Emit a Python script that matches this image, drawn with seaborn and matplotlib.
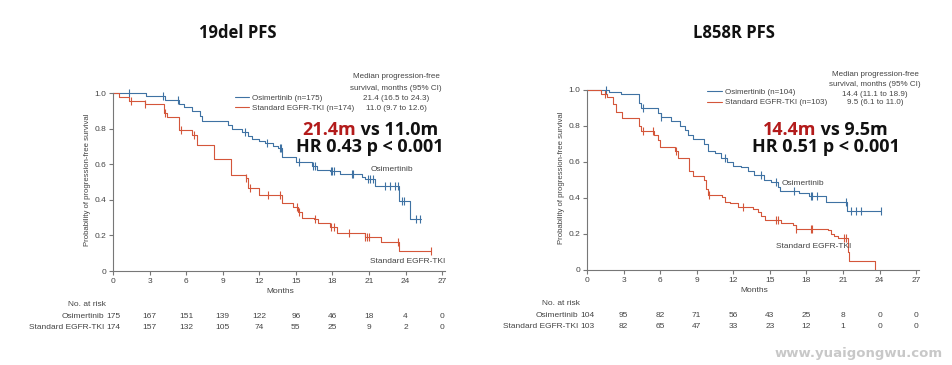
import numpy as np
import matplotlib
matplotlib.use("Agg")
import matplotlib.pyplot as plt
import seaborn as sns

# ---- 19del panel ----
del_osi_t = [0, 2.7, 4.3, 5.4, 5.8, 6.5, 7.1, 7.3, 9.4, 9.8, 10.6, 11.1, 11.4, 12.0, 12.5, 13.1,
             13.5, 13.9, 15.0, 16.3, 16.7, 17.8, 18.6, 20.4, 20.7, 21.5, 23.5, 24.4]
del_osi_s = [1.0, 0.985, 0.96, 0.94, 0.92, 0.90, 0.87, 0.84, 0.82, 0.80, 0.78, 0.76, 0.74, 0.73, 0.72, 0.70,
             0.69, 0.64, 0.61, 0.59, 0.57, 0.56, 0.545, 0.53, 0.515, 0.48, 0.395, 0.295]
del_osi_end = 25.3
del_osi_cens = [1.3, 4.1, 5.3, 10.8, 12.6, 13.7, 13.8, 15.3, 16.4, 16.6, 17.9, 18.0, 18.1, 19.6, 19.7,
                20.9, 21.1, 21.3, 22.3, 22.7, 23.1, 23.4, 23.7, 23.9, 24.9, 25.2]

del_std_t = [0, 0.5, 1.3, 2.6, 4.2, 4.4, 5.4, 6.5, 6.9, 8.3, 9.7, 10.9, 11.1, 12.0, 13.9, 14.8, 15.2,
             15.5, 16.5, 16.8, 17.8, 18.4, 20.7, 22.0, 23.5]
del_std_s = [1.0, 0.98, 0.955, 0.94, 0.885, 0.865, 0.79, 0.765, 0.71, 0.63, 0.54, 0.52, 0.465, 0.425, 0.38,
             0.36, 0.33, 0.30, 0.29, 0.27, 0.25, 0.215, 0.19, 0.165, 0.115]
del_std_end = 26.1
del_std_cens = [1.45, 2.6, 4.3, 5.55, 6.65, 10.95, 11.2, 12.7, 13.7, 15.1, 15.3, 16.55, 17.9, 18.1, 19.4,
                20.7, 20.85, 21.0, 23.4, 26.1]

del_risk_osi = [175, 167, 151, 139, 122, 96, 46, 18, 4, 0]
del_risk_std = [174, 157, 132, 105, 74, 55, 25, 9, 2, 0]

# ---- L858R panel ----
l858_osi_t = [0, 1.8, 2.8, 4.3, 4.45, 5.8, 6.1, 6.9, 7.6, 8.0, 8.3, 8.7, 9.6, 9.9, 10.5, 11.0, 11.5,
              12.0, 12.6, 13.2, 13.7, 14.5, 15.1, 15.65, 15.8, 17.4, 18.2, 19.6, 21.3]
l858_osi_s = [1.0, 0.99, 0.98, 0.93, 0.90, 0.87, 0.85, 0.83, 0.80, 0.78, 0.75, 0.73, 0.70, 0.66, 0.65, 0.62,
              0.60, 0.58, 0.57, 0.55, 0.53, 0.50, 0.49, 0.46, 0.44, 0.43, 0.41, 0.375, 0.33]
l858_osi_end = 24.1
l858_osi_cens = [1.55, 4.6, 6.1, 11.3, 14.3, 15.5, 17.0, 18.4, 18.5, 18.9, 21.25, 21.7, 22.1, 22.5, 24.1]

l858_std_t = [0, 1.15, 1.6, 2.1, 2.4, 2.9, 4.3, 4.45, 5.5, 5.8, 5.95, 7.2, 7.45, 8.4, 8.7, 9.6, 9.8, 9.9,
              11.1, 11.3, 11.7, 12.4, 13.6, 14.0, 14.3, 14.6, 15.9, 16.9, 17.15, 19.75, 20.0, 20.3, 20.6,
              21.4, 21.5, 23.6]
l858_std_s = [1.0, 0.98, 0.96, 0.92, 0.88, 0.845, 0.80, 0.77, 0.75, 0.72, 0.685, 0.66, 0.62, 0.55, 0.52,
              0.50, 0.45, 0.415, 0.405, 0.38, 0.37, 0.35, 0.34, 0.32, 0.30, 0.28, 0.26, 0.25, 0.23, 0.22,
              0.20, 0.19, 0.18, 0.10, 0.05, 0.0]
l858_std_end = 23.6
l858_std_cens = [1.5, 4.6, 5.4, 7.3, 10.0, 12.8, 15.5, 15.65, 17.15, 18.4, 18.5, 21.1, 21.25]

l858_risk_osi = [104, 95, 82, 71, 56, 43, 25, 8, 0, 0]
l858_risk_std = [103, 82, 65, 47, 33, 23, 12, 1, 0, 0]

months = list(range(0, 28, 3))

BLUE = "#3f72a3"
RED = "#d4563a"
GREY = "#444444"

sns.set_theme(style="ticks")
plt.rcParams['font.family'] = ['Liberation Sans', 'DejaVu Sans']

fig = plt.figure(figsize=(9.52, 3.65), dpi=100)
ax1 = fig.add_axes([0.1187, 0.2575, 0.3508, 0.4974])
ax2 = fig.add_axes([0.6166, 0.2603, 0.3508, 0.503])


def km_curve(ax, t, s, end, cens, color, label):
    x = list(t) + [end]
    y = list(s) + [s[-1]]
    sns.lineplot(x=x, y=y, drawstyle='steps-post', estimator=None, sort=False,
                 color=color, linewidth=0.8, label=label, ax=ax)
    idx = np.searchsorted(t, cens, side='right') - 1
    cy = np.array(s)[idx]
    sns.scatterplot(x=cens, y=cy, marker='|', s=26, color=color, linewidth=0.8, ax=ax)


def panel(ax, osi, std, n_osi, n_std, risk_osi, risk_std, leg_xy, osi_lab_xy, std_lab_xy):
    km_curve(ax, *osi, BLUE, f"Osimertinib (n={n_osi})")
    km_curve(ax, *std, RED, f"Standard EGFR-TKI (n={n_std})")
    ax.set_xlim(0, 27.4)
    ax.set_ylim(0, 1.02)
    ax.set_xticks(months)
    ax.set_yticks([0, 0.2, 0.4, 0.6, 0.8, 1.0])
    ax.set_yticklabels(['0', '0.2', '0.4', '0.6', '0.8', '1.0'])
    ax.spines['left'].set_bounds(0, 1)
    ax.spines['bottom'].set_bounds(0, 27.2)
    for sp in ['left', 'bottom']:
        ax.spines[sp].set_color('#777777')
        ax.spines[sp].set_linewidth(0.8)
    sns.despine(ax=ax)
    ax.tick_params(axis='both', labelsize=6, colors='#777777', labelcolor=GREY,
                   length=3, width=0.8, pad=2)
    ax.set_xlabel("Months", fontsize=6, color=GREY, labelpad=2)
    ax.set_ylabel("Probability of progression-free survival", fontsize=5.6, color=GREY, labelpad=2)
    ax.legend(loc='upper left', bbox_to_anchor=leg_xy, frameon=False, fontsize=5.8,
              handlelength=1.8, handletextpad=0.35, labelspacing=0.35, borderpad=0,
              borderaxespad=0, labelcolor=GREY)
    ax.text(*osi_lab_xy, "Osimertinib", fontsize=6, color=GREY, va='center')
    ax.text(*std_lab_xy, "Standard EGFR-TKI", fontsize=6, color=GREY, va='center')

    # number at risk table
    kw = dict(xycoords=('data', 'axes fraction'), textcoords='offset points',
              fontsize=6, color=GREY, va='center', annotation_clip=False)
    ax.annotate("No. at risk", xy=(0, 0), xytext=(-19, -24), ha='center', **kw)
    ax.annotate("Osimertinib", xy=(0, 0), xytext=(-6.5, -32.8), ha='right', **kw)
    ax.annotate("Standard EGFR-TKI", xy=(0, 0), xytext=(-6.5, -40.8), ha='right', **kw)
    for m, a, b in zip(months, risk_osi, risk_std):
        ax.annotate(str(a), xy=(m, 0), xytext=(0, -32.8), ha='center', **kw)
        ax.annotate(str(b), xy=(m, 0), xytext=(0, -40.8), ha='center', **kw)


panel(ax1, (del_osi_t, del_osi_s, del_osi_end, del_osi_cens),
      (del_std_t, del_std_s, del_std_end, del_std_cens),
      175, 174, del_risk_osi, del_risk_std, (0.365, 0.975), (21.1, 0.573), (21.1, 0.056))
panel(ax2, (l858_osi_t, l858_osi_s, l858_osi_end, l858_osi_cens),
      (l858_std_t, l858_std_s, l858_std_end, l858_std_cens),
      104, 103, l858_risk_osi, l858_risk_std, (0.36, 0.99), (16.0, 0.483), (15.5, 0.128))


def fx(px):
    return px / 952


def fy(py):
    return 1 - py / 365


# titles
fig.text(fx(238), fy(38), "19del PFS", fontsize=12, weight='bold', ha='center', va='baseline',
         family='Open Sans', color='#111111')
fig.text(fx(734), fy(38), "L858R PFS", fontsize=12, weight='bold', ha='center', va='baseline',
         family='Open Sans', color='#111111')

# median PFS header blocks
med = [(396, [77, 89, 99, 109], ["21.4 (16.5 to 24.3)", "11.0 (9.7 to 12.6)"]),
       (875, [75, 85, 94, 103], ["14.4 (11.1 to 18.9)", "9.5 (6.1 to 11.0)"])]
for cx, ys, vals in med:
    lines = ["Median progression-free", "survival, months (95% CI)"] + vals
    for yy, txt in zip(ys, lines):
        fig.text(fx(cx), fy(yy), txt, fontsize=5.8, color=GREY, ha='center', va='center')

# big highlighted results
big = [(ax1, 302, 296, "21.4m", " vs 11.0m", "HR 0.43 p < 0.001"),
       (ax2, 763, 752, "14.4m", " vs 9.5m", "HR 0.51 p < 0.001")]
for ax, x1, x2, red_txt, rest, hr in big:
    t = fig.text(fx(x1), fy(135), red_txt, fontsize=13, weight='bold', color='#b31b1b',
                 family='Open Sans', ha='left', va='baseline')
    ax.annotate(rest, xy=(1, 0), xycoords=t, fontsize=13, weight='bold', color='#111111',
                family='Open Sans', ha='left', va='bottom', annotation_clip=False)
    fig.text(fx(x2), fy(152), hr, fontsize=13, weight='bold', color='#111111',
             family='Open Sans', ha='left', va='baseline')

# watermark
fig.text(fx(859), fy(353), "www.yuaigongwu.com", fontsize=9.5, weight='bold', color='#c8c8c8',
         family='DejaVu Sans', ha='center', va='center')

fig.savefig("out.png", dpi=100)
